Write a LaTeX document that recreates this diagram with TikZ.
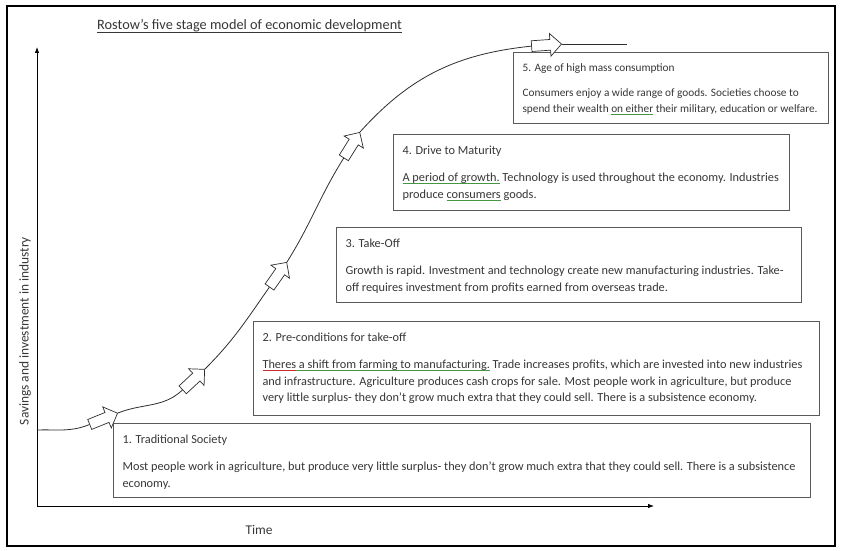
\documentclass[tikz,border=0pt]{standalone}
\usepackage{fontspec}
\setmainfont{Carlito}
\usepackage{xcolor}
\usepackage{tikz}
\usetikzlibrary{shapes.arrows, arrows.meta, positioning}
\definecolor{mytext}{RGB}{55,55,55}
\definecolor{myborder}{RGB}{90,90,90}
\definecolor{myline}{RGB}{45,45,45}
\definecolor{spellred}{RGB}{205,45,55}
\definecolor{spellgreen}{RGB}{70,150,70}
\newcommand{\marked}[3]{\leavevmode\sbox0{#3}\rlap{\textcolor{#1}{\rule[-2.4pt]{\wd0}{#2}}}\usebox0}
\newcommand{\stagetext}[5]{\parbox[c][#2][t]{#1}{\raggedright\strut #3\par\vspace{#4}#5}}
\tikzset{
  frame/.style={draw=black, line width=1.5pt},
  axis/.style={-{Latex[length=6pt, width=4.5pt]}, line width=0.8pt, color=black},
  curve/.style={line width=0.8pt, color=myline},
  titletext/.style={font=\fontsize{14.3}{17}\selectfont, text=mytext, inner sep=0pt},
  axislabel/.style={font=\fontsize{13.4}{16}\selectfont, text=mytext, inner sep=0pt},
  stagebox/.style={rectangle, draw=myborder, fill=white, line width=1.1pt,
    anchor=north west, inner xsep=9pt, inner ysep=8.5pt, text=mytext,
    font=\fontsize{12.3}{16.5}\selectfont},
  blockarrow/.style={single arrow, draw=myline, fill=white, line width=0.7pt,
    minimum height=30pt, inner sep=5pt, single arrow head extend=6pt,
    anchor=tip}
}
\begin{document}
\begin{tikzpicture}[x=1pt, y=-1pt]
  \useasboundingbox (0,0) rectangle (844,551);
  \draw[frame] (7,6) rectangle (835,546);
  \node[titletext, anchor=base west] (title) at (97,30)
    {\marked{mytext}{0.8pt}{Rostow’s five stage model of economic development}};

  \coordinate (origin) at (37,506);
  \coordinate (ytop) at (37,47);
  \coordinate (xend) at (654,506);
  \draw[axis] (origin) -- (ytop);
  \draw[axis] (origin) -- (xend);
  \node[axislabel, rotate=90] (ylab) at (25,331) {Savings and investment in industry};
  \node[axislabel] (xlab) at (259,530) {Time};

  \node[stagebox] (stage1) at (113,423) {\stagetext{679pt}{57pt}{1. Traditional Society}{10.5pt}
    {Most people work in agriculture, but produce very little surplus- they don’t grow much extra that they could sell. There is a subsistence\\
     economy.}};
  \node[stagebox] (stage2) at (253,321) {\stagetext{548pt}{77pt}{2. Pre-conditions for take-off}{10.5pt}
    {\marked{spellred}{0.6pt}{Theres}\marked{spellgreen}{0.6pt}{ a shift from farming to manufacturing.} Trade increases profits, which are invested into new industries\\
     and infrastructure. Agriculture produces cash crops for sale. Most people work in agriculture, but produce\\
     very little surplus- they don’t grow much extra that they could sell. There is a subsistence economy.}};
  \node[stagebox] (stage3) at (336,227) {\stagetext{447pt}{58pt}{3. Take-Off}{10.5pt}
    {Growth is rapid. Investment and technology create new manufacturing industries. Take-\\
     off requires investment from profits earned from overseas trade.}};
  \node[stagebox] (stage4) at (393,134) {\stagetext{378pt}{59pt}{4. Drive to Maturity}{10.5pt}
    {\marked{spellgreen}{0.6pt}{A period of growth.} Technology is used throughout the economy. Industries\\
     produce \marked{spellgreen}{0.6pt}{consumers} goods.}};
  \node[stagebox, inner ysep=7pt, font=\fontsize{11.3}{16.5}\selectfont] (stage5) at (513,52)
    {\stagetext{297pt}{57pt}{5. Age of high mass consumption}{8.5pt}
    {\mbox{Consumers enjoy a wide range of goods. Societies choose to}\\
     \mbox{spend their wealth \marked{spellgreen}{0.6pt}{on either} their military, education or welfare.}}};

  \node[blockarrow, rotate=22] (arr1) at (118,413) {};
  \node[blockarrow, rotate=43] (arr2) at (205,369) {};
  \node[blockarrow, rotate=55] (arr3) at (287,262) {};
  \node[blockarrow, rotate=58] (arr4) at (360,132) {};
  \node[blockarrow, rotate=4] (arr5) at (562,44) {};

  \coordinate (cstart) at (37,430);
  \coordinate (cend) at (627,44);
  \draw[curve] (cstart) to[out=2, in=202] (arr1.tail);
  \draw[curve] (arr1.tip) to[out=22, in=223] (arr2.tail);
  \draw[curve] (arr2.tip) to[out=45, in=235] (arr3.tail);
  \draw[curve] (arr3.tip) to[out=58, in=238] (arr4.tail);
  \draw[curve] (arr4.tip) to[out=48, in=186] (arr5.tail);
  \draw[curve] (arr5.tip) -- (cend);
\end{tikzpicture}
\end{document}
